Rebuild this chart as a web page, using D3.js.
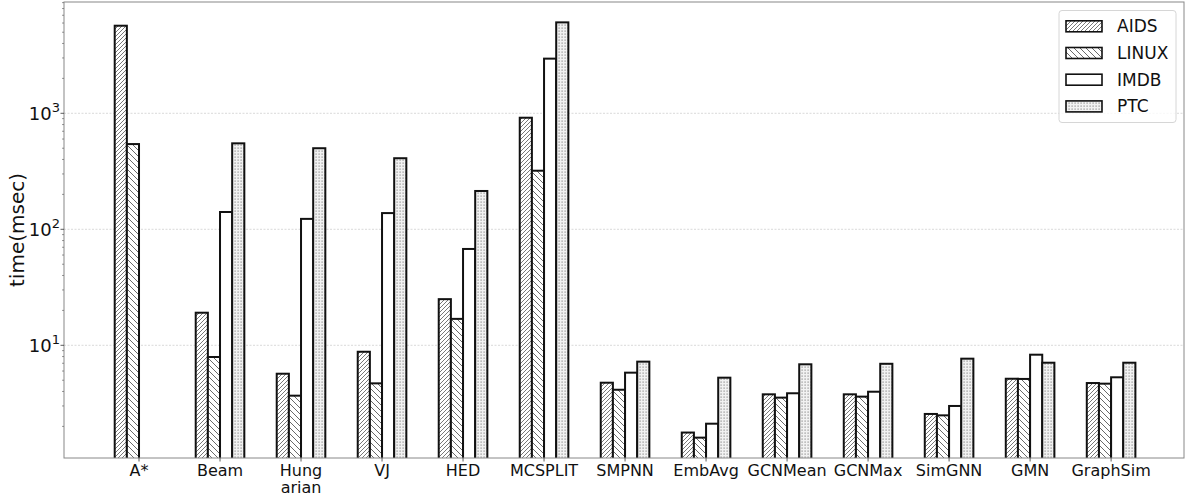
<!DOCTYPE html>
<html>
<head>
<meta charset="utf-8">
<script src="https://cdn.jsdelivr.net/npm/d3@7"></script>
<style>
  html, body { margin: 0; padding: 0; background: #fff; }
  svg { display: block; font-family: "DejaVu Sans", sans-serif; }
</style>
</head>
<body>
<svg id="chart" width="1185" height="496"></svg>
<script>
// Runtime per method (msec) on four datasets, log scale
const categories = ["A*", "Beam", "Hung\narian", "VJ", "HED", "MCSPLIT", "SMPNN", "EmbAvg", "GCNMean", "GCNMax", "SimGNN", "GMN", "GraphSim"];
const seriesNames = ["AIDS", "LINUX", "IMDB", "PTC"];
const aids  = [5690, 19.1, 5.69, 8.8, 25, 916, 4.76, 1.77, 3.78, 3.78, 2.56, 5.15, 4.73];
const linux = [543, 7.93, 3.68, 4.7, 16.9, 320, 4.14, 1.60, 3.54, 3.61, 2.49, 5.13, 4.67];
const imdb  = [null, 141, 123, 138, 67.7, 2960, 5.81, 2.11, 3.86, 3.98, 3.0, 8.3, 5.3];
const ptc   = [null, 551, 500, 410, 214, 6080, 7.23, 5.26, 6.86, 6.93, 7.67, 7.08, 7.08];
const yTickValues = [10, 100, 1000];
const yTickExponents = ["1", "2", "3"];

const series = [aids, linux, imdb, ptc];
const fills = ["url(#hatchAids)", "url(#hatchLinux)", "#ffffff", "url(#dotsPtc)"];

const svg = d3.select("#chart");
const plot = { left: 64, right: 1184, top: 2, bottom: 458 };
const barW = 0.15;

const x = d3.scaleLinear().domain([-0.926, 12.9]).range([plot.left, plot.right]);
const y = d3.scaleLog().domain([1.068, 9110]).range([plot.bottom, plot.top]);

// hatch patterns
const defs = svg.append("defs");
const pA = defs.append("pattern").attr("id", "hatchAids").attr("patternUnits", "userSpaceOnUse")
  .attr("width", 4).attr("height", 4);
pA.append("rect").attr("width", 4).attr("height", 4).attr("fill", "#fff");
pA.append("path").attr("d", "M0,4 L4,0 M-1,1 L1,-1 M3,5 L5,3")
  .attr("stroke", "#555").attr("stroke-width", 0.8);

const pL = defs.append("pattern").attr("id", "hatchLinux").attr("patternUnits", "userSpaceOnUse")
  .attr("width", 6).attr("height", 6);
pL.append("rect").attr("width", 6).attr("height", 6).attr("fill", "#fff");
pL.append("path").attr("d", "M0,0 L6,6 M-1,5 L1,7 M5,-1 L7,1")
  .attr("stroke", "#444").attr("stroke-width", 0.8);

const pP = defs.append("pattern").attr("id", "dotsPtc").attr("patternUnits", "userSpaceOnUse")
  .attr("width", 3).attr("height", 3);
pP.append("rect").attr("width", 3).attr("height", 3).attr("fill", "#f2f2f2");
pP.append("rect").attr("x", 0.5).attr("y", 0.5).attr("width", 1.2).attr("height", 1.2).attr("fill", "#8a8a8a");

defs.append("clipPath").attr("id", "plotClip").append("rect")
  .attr("x", plot.left).attr("y", plot.top)
  .attr("width", plot.right - plot.left).attr("height", plot.bottom - plot.top);

// grid
svg.append("g").selectAll("line").data(yTickValues).join("line")
  .attr("x1", plot.left).attr("x2", plot.right)
  .attr("y1", d => y(d)).attr("y2", d => y(d))
  .attr("stroke", "#cfcfcf").attr("stroke-width", 0.8).attr("stroke-dasharray", "2,1.5");

// bars
const barsG = svg.append("g").attr("clip-path", "url(#plotClip)");
series.forEach((vals, k) => {
  barsG.append("g").selectAll("rect")
    .data(vals.map((v, i) => ({ v, i })).filter(d => d.v != null))
    .join("rect")
    .attr("x", d => x(d.i + (k - 2) * barW))
    .attr("width", d => x(d.i + (k - 1) * barW) - x(d.i + (k - 2) * barW))
    .attr("y", d => y(d.v))
    .attr("height", d => plot.bottom - y(d.v) + 2)
    .attr("fill", fills[k])
    .attr("stroke", "#111").attr("stroke-width", 2);
});

// spines
svg.append("rect")
  .attr("x", plot.left).attr("y", plot.top)
  .attr("width", plot.right - plot.left).attr("height", plot.bottom - plot.top)
  .attr("fill", "none").attr("stroke", "#888").attr("stroke-width", 1);

// x axis ticks and labels
const xAxis = svg.append("g");
categories.forEach((c, i) => {
  const cx = x(i);
  xAxis.append("line").attr("x1", cx).attr("x2", cx)
    .attr("y1", plot.bottom).attr("y2", plot.bottom + 3.5)
    .attr("stroke", "#333").attr("stroke-width", 0.8);
  const t = xAxis.append("text").attr("x", cx).attr("y", 476)
    .attr("text-anchor", "middle").attr("font-size", 16).attr("fill", "#111");
  c.split("\n").forEach((line, j) => {
    t.append("tspan").attr("x", cx).attr("dy", j === 0 ? 0 : 17).text(line);
  });
});

// y axis: major and minor ticks
const yAxis = svg.append("g");
const minor = [];
for (let e = 0; e <= 3; e++) {
  for (let m = 2; m <= 9; m++) {
    const v = m * Math.pow(10, e);
    if (v >= y.domain()[0] && v <= y.domain()[1]) minor.push(v);
  }
}
yAxis.selectAll("line.minor").data(minor).join("line").attr("class", "minor")
  .attr("x1", plot.left - 2).attr("x2", plot.left)
  .attr("y1", d => y(d)).attr("y2", d => y(d))
  .attr("stroke", "#555").attr("stroke-width", 0.6);
yAxis.selectAll("line.major").data(yTickValues).join("line").attr("class", "major")
  .attr("x1", plot.left - 3.5).attr("x2", plot.left)
  .attr("y1", d => y(d)).attr("y2", d => y(d))
  .attr("stroke", "#333").attr("stroke-width", 0.8);
yTickValues.forEach((v, i) => {
  const t = yAxis.append("text").attr("x", 60).attr("y", y(v) + 6.5)
    .attr("text-anchor", "end").attr("font-size", 18).attr("fill", "#111");
  t.append("tspan").text("10");
  t.append("tspan").attr("font-size", 13).attr("dy", -8).text(yTickExponents[i]);
});

// y label
svg.append("text")
  .attr("transform", `translate(24,${(plot.top + plot.bottom) / 2}) rotate(-90)`)
  .attr("text-anchor", "middle").attr("font-size", 20).attr("fill", "#111")
  .text("time(msec)");

// legend
const lg = svg.append("g");
lg.append("rect").attr("x", 1059).attr("y", 10.5).attr("width", 117).attr("height", 112)
  .attr("rx", 3).attr("fill", "#fff").attr("fill-opacity", 0.8)
  .attr("stroke", "#d6d6d6").attr("stroke-width", 1);
seriesNames.forEach((name, k) => {
  const cy = 26.3 + k * 26.7;
  lg.append("rect").attr("x", 1066).attr("y", cy - 5.5).attr("width", 36).attr("height", 11)
    .attr("fill", fills[k]).attr("stroke", "#111").attr("stroke-width", 1.6);
  lg.append("text").attr("x", 1117).attr("y", cy + 6).attr("font-size", 17).attr("fill", "#111")
    .text(name);
});
</script>
</body>
</html>
